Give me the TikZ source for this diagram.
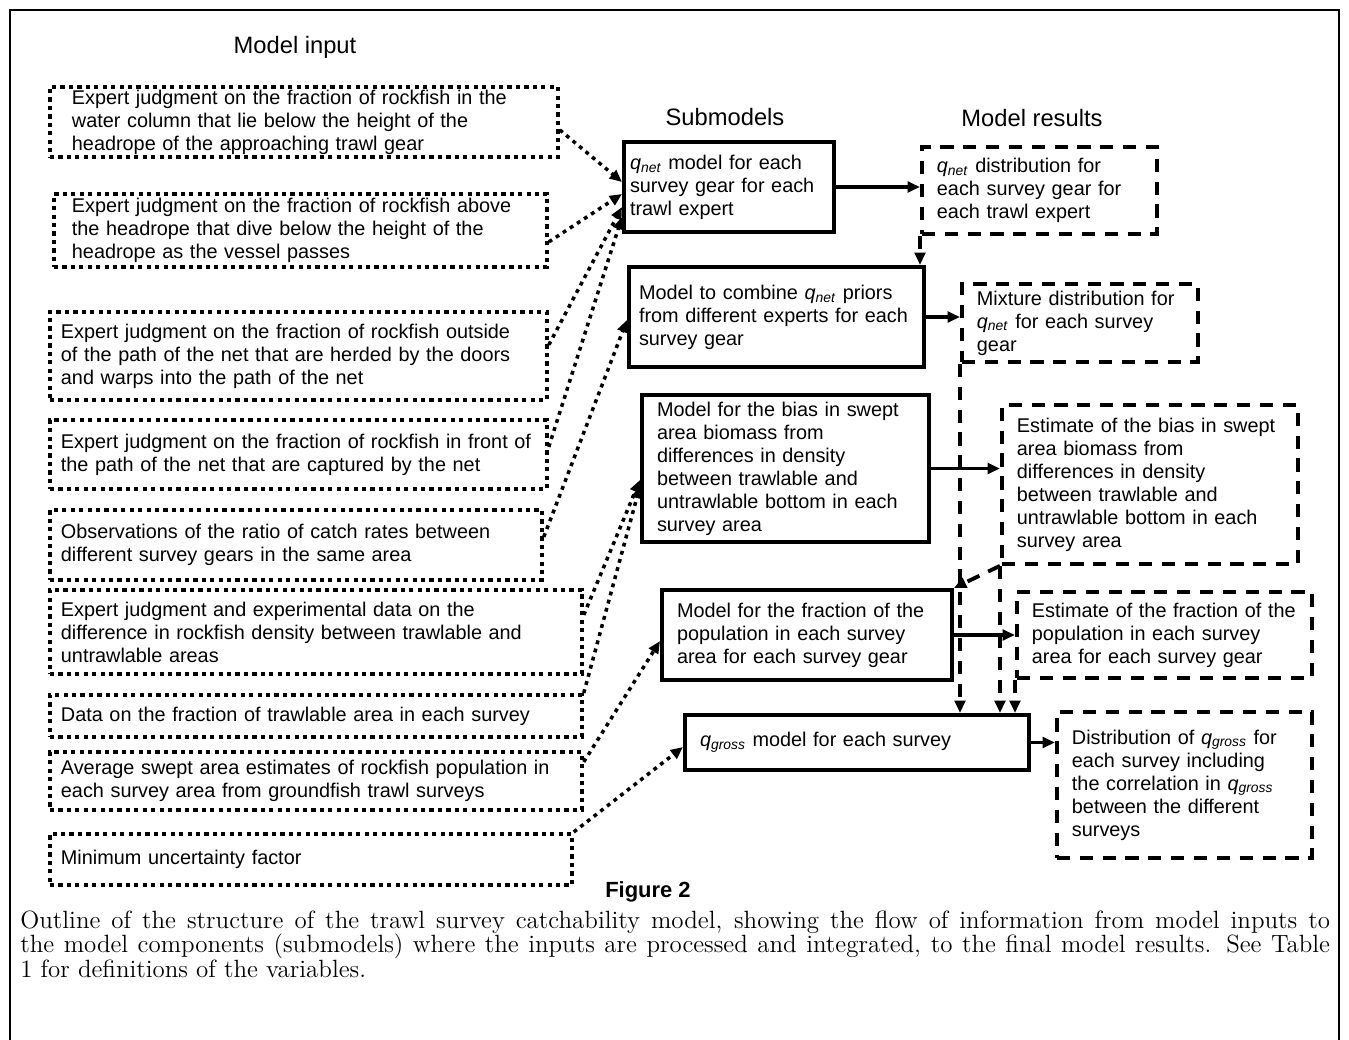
\documentclass[tikz,border=0pt]{standalone}
\usepackage{fontspec}
\usetikzlibrary{arrows.meta}
\newfontfamily\arialfont{Liberation Sans}
\newcommand{\boxtxt}{\arialfont\fontsize{11.3}{13.1}\selectfont}
\newcommand{\headtxt}{\arialfont\fontsize{13.5}{16}\selectfont}
\newcommand{\qn}{\textit{q}\textsubscript{\textit{net}}}
\newcommand{\qg}{\textit{q}\textsubscript{\textit{gross}}}
\tikzset{
  inbox/.style={draw, line width=2.2pt, dash pattern=on 2.4pt off 2.4pt, anchor=north west, align=left, inner xsep=0.22cm, inner ysep=0pt, font=\boxtxt},
  subbox/.style={draw, line width=2.3pt, anchor=north west, align=left, inner xsep=0.3cm, inner ysep=0pt, font=\boxtxt},
  resbox/.style={draw, line width=2.2pt, dash pattern=on 7.5pt off 5.5pt, anchor=north west, align=left, inner xsep=0.3cm, inner ysep=0pt, font=\boxtxt},
  feed/.style={line width=2pt, dash pattern=on 2.2pt off 2.6pt, -{Triangle[length=7pt,width=6pt]}},
  pass/.style={line width=1.8pt, -{Triangle[length=7pt,width=6pt]}},
  back/.style={line width=2.2pt, dash pattern=on 7.5pt off 5.5pt, -{Triangle[length=7pt,width=6pt]}},
  head/.style={font=\headtxt}
}
\begin{document}
\begin{tikzpicture}[x=0.02cm, y=-0.02cm]
  \useasboundingbox (0,0) rectangle (1349,1040);
  \draw[line width=1.2pt] (10,1040) -- (10,10) -- (1339,10) -- (1339,1040);

  \node[head] (hin) at (295,47) {Model input};
  \node[head] (hsub) at (725,117) {Submodels};
  \node[head] (hres) at (1032,118) {Model results};

  \node[inbox, inner xsep=0.44cm, minimum width=10.16cm, minimum height=1.4cm, text width=9.28cm] (I1) at (48,85)
    {Expert judgment on the fraction of rockfish in the\\ water column that lie below the height of the\\ headrope of the approaching trawl gear};
  \node[inbox, inner xsep=0.36cm, minimum width=9.86cm, minimum height=1.46cm, text width=9.14cm] (I2) at (52,192)
    {Expert judgment on the fraction of rockfish above\\ the headrope that dive below the height of the\\ headrope as the vessel passes};
  \node[inbox, minimum width=9.94cm, minimum height=1.76cm, text width=9.5cm] (I3) at (48,310)
    {Expert judgment on the fraction of rockfish outside\\ of the path of the net that are herded by the doors\\ and warps into the path of the net};
  \node[inbox, minimum width=9.94cm, minimum height=1.38cm, text width=9.5cm] (I4) at (48,418)
    {Expert judgment on the fraction of rockfish in front of\\ the path of the net that are captured by the net};
  \node[inbox, minimum width=9.84cm, minimum height=1.4cm, text width=9.4cm] (I5) at (48,508)
    {Observations of the ratio of catch rates between\\ different survey gears in the same area};
  \node[inbox, minimum width=10.64cm, minimum height=1.68cm, text width=10.2cm] (I6) at (48,588)
    {Expert judgment and experimental data on the\\ difference in rockfish density between trawlable and\\ untrawlable areas};
  \node[inbox, minimum width=10.64cm, minimum height=0.84cm, text width=10.2cm] (I7) at (48,693)
    {Data on the fraction of trawlable area in each survey};
  \node[inbox, minimum width=10.64cm, minimum height=1.16cm, text width=10.2cm] (I8) at (48,750)
    {Average swept area estimates of rockfish population in\\ each survey area from groundfish trawl surveys};
  \node[inbox, minimum width=10.44cm, minimum height=1.02cm, text width=10.0cm] (I9) at (48,832)
    {Minimum uncertainty factor};

  \node[subbox, inner xsep=0.12cm, minimum width=4.2cm, minimum height=1.8cm, text width=3.96cm] (S1) at (622,140)
    {\qn{} model for each\\ survey gear for each\\ trawl expert};
  \node[subbox, inner xsep=0.2cm, minimum width=5.9cm, minimum height=2.0cm, text width=5.5cm] (S2) at (627,265)
    {Model to combine \qn{} priors\\ from different experts for each\\ survey gear};
  \node[subbox, minimum width=5.74cm, minimum height=2.94cm, text width=5.14cm] (S3) at (640,393)
    {Model for the bias in swept\\ area biomass from\\ differences in density\\ between trawlable and\\ untrawlable bottom in each\\ survey area};
  \node[subbox, minimum width=5.8cm, minimum height=1.8cm, text width=5.2cm] (S4) at (660,588)
    {Model for the fraction of the\\ population in each survey\\ area for each survey gear};
  \node[subbox, minimum width=6.88cm, minimum height=1.1cm, text width=6.28cm] (S5) at (683,713)
    {\qg{} model for each survey};

  \node[resbox, minimum width=4.7cm, minimum height=1.74cm, text width=4.1cm] (R1) at (920,145)
    {\qn{} distribution for\\ each survey gear for\\ each trawl expert};
  \node[resbox, minimum width=4.72cm, minimum height=1.56cm, text width=4.12cm] (R2) at (960,282)
    {Mixture distribution for\\ \qn{} for each survey\\ gear};
  \node[resbox, minimum width=5.92cm, minimum height=3.18cm, text width=5.32cm] (R3) at (1000,403)
    {Estimate of the bias in swept\\ area biomass from\\ differences in density\\ between trawlable and\\ untrawlable bottom in each\\ survey area};
  \node[resbox, minimum width=5.9cm, minimum height=1.72cm, text width=5.3cm] (R4) at (1015,590)
    {Estimate of the fraction of the\\ population in each survey\\ area for each survey gear};
  \node[resbox, minimum width=5.1cm, minimum height=2.92cm, text width=4.5cm] (R5) at (1055,710)
    {Distribution of \qg{} for\\ each survey including\\ the correlation in \qg\\ between the different\\ surveys};

  \draw[feed] ([yshift=-0.16cm]I1.east) -- ([yshift=0.1cm]S1.west);
  \draw[feed] ([yshift=-0.23cm]I2.east) -- ([yshift=-0.14cm]S1.west);
  \draw[feed] ([yshift=0.22cm]I3.east) -- ([yshift=-0.4cm]S1.west);
  \draw[feed] ([yshift=0.15cm]I4.east) -- ([yshift=-0.6cm]S1.west);
  \draw[feed] ([yshift=0.16cm]I5.east) -- ([yshift=-0.06cm]S2.west);
  \draw[feed] ([yshift=0.34cm]I6.east) -- ([yshift=-0.23cm]S3.west);
  \draw[feed] (I7.north east) -- ([yshift=-0.35cm]S3.west);
  \draw[feed] ([yshift=0.38cm]I8.east) -- ([yshift=-0.12cm]S4.west);
  \draw[feed] (I9.north east) -- ([yshift=-0.09cm]S5.west);

  \draw[pass] (S1.east) -- (S1.east -| R1.west);
  \draw[pass] (S2.east) -- (S2.east -| R2.west);
  \draw[pass] (S3.east) -- (S3.east -| R3.west);
  \draw[pass] (S4.east) -- (S4.east -| R4.west);
  \draw[pass] (S5.east) -- (S5.east -| R5.west);

  \draw[back] (R1.south west) -- (R1.south west |- S2.north);
  \draw[back] (R2.south west) -- (R2.south west |- S5.north);
  \draw[back] (R3.south west) -- (R3.south west |- S5.north);
  \draw[back] (R4.south west) -- (R4.south west |- S5.north);
  \draw[back] (R3.south west) -- (S4.north east);

  \node[font=\arialfont\bfseries\fontsize{12.5}{15}\selectfont] (fig) at (648,892) {Figure 2};
  \node[anchor=north west, inner sep=0pt, text width=26.2cm, align=justify, font=\fontsize{14.2}{13.7}\selectfont] (cap) at (20,911)
    {Outline of the structure of the trawl survey catchability model, showing the flow of information from model inputs to\linebreak
     the model components (submodels) where the inputs are processed and integrated, to the final model results. See Table\linebreak
     1 for definitions of the variables.};
\end{tikzpicture}
\end{document}
